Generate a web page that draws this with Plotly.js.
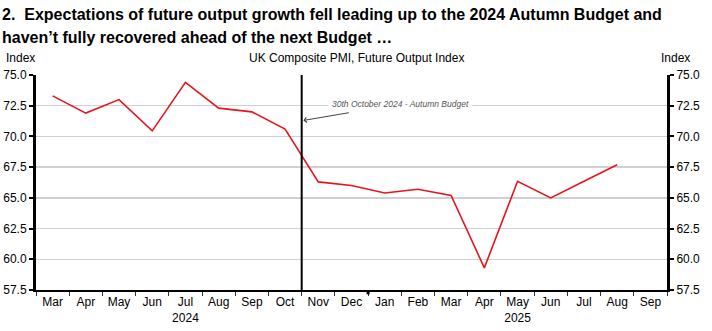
<!DOCTYPE html>
<html>
<head>
<meta charset="utf-8">
<script src="https://cdn.plot.ly/plotly-3.0.1.min.js"></script>
<style>html,body{margin:0;padding:0;background:#fff;}#chart{width:712px;height:331px;}</style>
</head>
<body>
<div id="chart"></div>
<script>
const months = ["Mar","Apr","May","Jun","Jul","Aug","Sep","Oct","Nov","Dec","Jan","Feb","Mar","Apr","May","Jun","Jul","Aug","Sep"];
const years = ["","","","","2024","","","","","","","","","","2025","","","",""];
const futureOutput = [73.3,71.9,73.0,70.45,74.4,72.3,72.0,70.6,66.3,66.0,65.4,65.7,65.2,59.3,66.35,65.0,66.35,67.7,null];
const titleLines = ["2.  Expectations of future output growth fell leading up to the 2024 Autumn Budget and", "haven’t fully recovered ahead of the next Budget …"];
const subtitle = "UK Composite PMI, Future Output Index";
const axisLabel = "Index";
const budgetLabel = "30th October 2024 - Autumn Budget";

const idx = months.map((m,i)=>i);
const tickText = months.map((m,i)=> years[i] ? m + "<br>" + years[i] : m);
const FONT = "Liberation Sans Narrow, Arial Narrow, Liberation Sans, Arial, sans-serif";
const TOP = 75, BOT = 41, H = 331;
const py = p => (H - BOT - p) / (H - TOP - BOT);

const traces = [
  {x: idx, y: futureOutput, type: "scatter", mode: "lines", line: {color: "#e8141c", width: 1.6}, hoverinfo: "skip", showlegend: false},
  {x: idx, y: futureOutput, yaxis: "y2", type: "scatter", mode: "lines", line: {color: "rgba(0,0,0,0)", width: 0}, hoverinfo: "skip", showlegend: false}
];

const yCommon = {
  range: [57.5, 75], dtick: 2.5, tick0: 57.5, tickformat: ".1f",
  showline: true, linecolor: "#000", linewidth: 3,
  ticks: "outside", ticklen: 4, tickwidth: 2, tickcolor: "#000",
  tickfont: {family: FONT, size: 12, color: "#000"}, zeroline: false, fixedrange: true
};

const titleFont = {family: "Liberation Sans, Arial, sans-serif", size: 16, color: "#000"};

const layout = {
  width: 712, height: 331,
  margin: {l: 36, r: 45, t: TOP, b: BOT},
  paper_bgcolor: "#fff", plot_bgcolor: "#fff",
  xaxis: {
    range: [-0.5, 18.5], tickvals: idx, ticktext: tickText, ticks: "",
    tickfont: {family: FONT, size: 12, color: "#000"},
    showline: true, linecolor: "#000", linewidth: 2, showgrid: false, zeroline: false,
    minor: {tick0: -0.5, dtick: 1, ticks: "outside", ticklen: 4, tickwidth: 1, tickcolor: "#333", showgrid: false},
    fixedrange: true
  },
  yaxis: Object.assign({}, yCommon, {side: "left", showgrid: true, gridcolor: "#d0d0d0", gridwidth: 1.5}),
  yaxis2: Object.assign({}, yCommon, {side: "right", overlaying: "y", showgrid: false}),
  shapes: [
    {type: "line", xref: "x", yref: "y", x0: 7.5, x1: 7.5, y0: 57.5, y1: 75, line: {color: "#000", width: 2}},
    {type: "line", xref: "x", yref: "paper", x0: 9.5, x1: 9.5, y0: 0, y1: -0.02, line: {color: "#000", width: 3}}
  ],
  annotations: [
    {xref: "paper", yref: "paper", x: -6/631 - 30/631, y: py(15), text: "<b>" + titleLines[0] + "</b>", showarrow: false, xanchor: "left", yanchor: "middle", font: titleFont},
    {xref: "paper", yref: "paper", x: -6/631 - 30/631, y: py(37), text: "<b>" + titleLines[1] + "</b>", showarrow: false, xanchor: "left", yanchor: "middle", font: titleFont},
    {xref: "paper", yref: "paper", x: -16/631, y: py(58), text: axisLabel, showarrow: false, xanchor: "center", yanchor: "middle", font: {family: FONT, size: 12, color: "#000"}},
    {xref: "paper", yref: "paper", x: 1 + 8/631, y: py(58), text: axisLabel, showarrow: false, xanchor: "center", yanchor: "middle", font: {family: FONT, size: 12, color: "#000"}},
    {xref: "paper", yref: "paper", x: (356-36)/631, y: py(58), text: subtitle, showarrow: false, xanchor: "center", yanchor: "middle", font: {family: FONT, size: 12, color: "#000"}},
    {xref: "x", yref: "y", x: 8.3, y: 72.6, text: "<i>" + budgetLabel + "</i>", showarrow: false, xanchor: "left", yanchor: "middle",
     bgcolor: "#fff", borderpad: 3, font: {family: FONT, size: 8.5, color: "#555"}},
    {xref: "x", yref: "y", x: 7.55, y: 71.3, text: "", showarrow: true, arrowhead: 4, arrowsize: 1, arrowwidth: 1, arrowcolor: "#444",
     ax: 47, ay: -8}
  ]
};

Plotly.newPlot("chart", traces, layout, {staticPlot: true, displayModeBar: false});
</script>
</body>
</html>
